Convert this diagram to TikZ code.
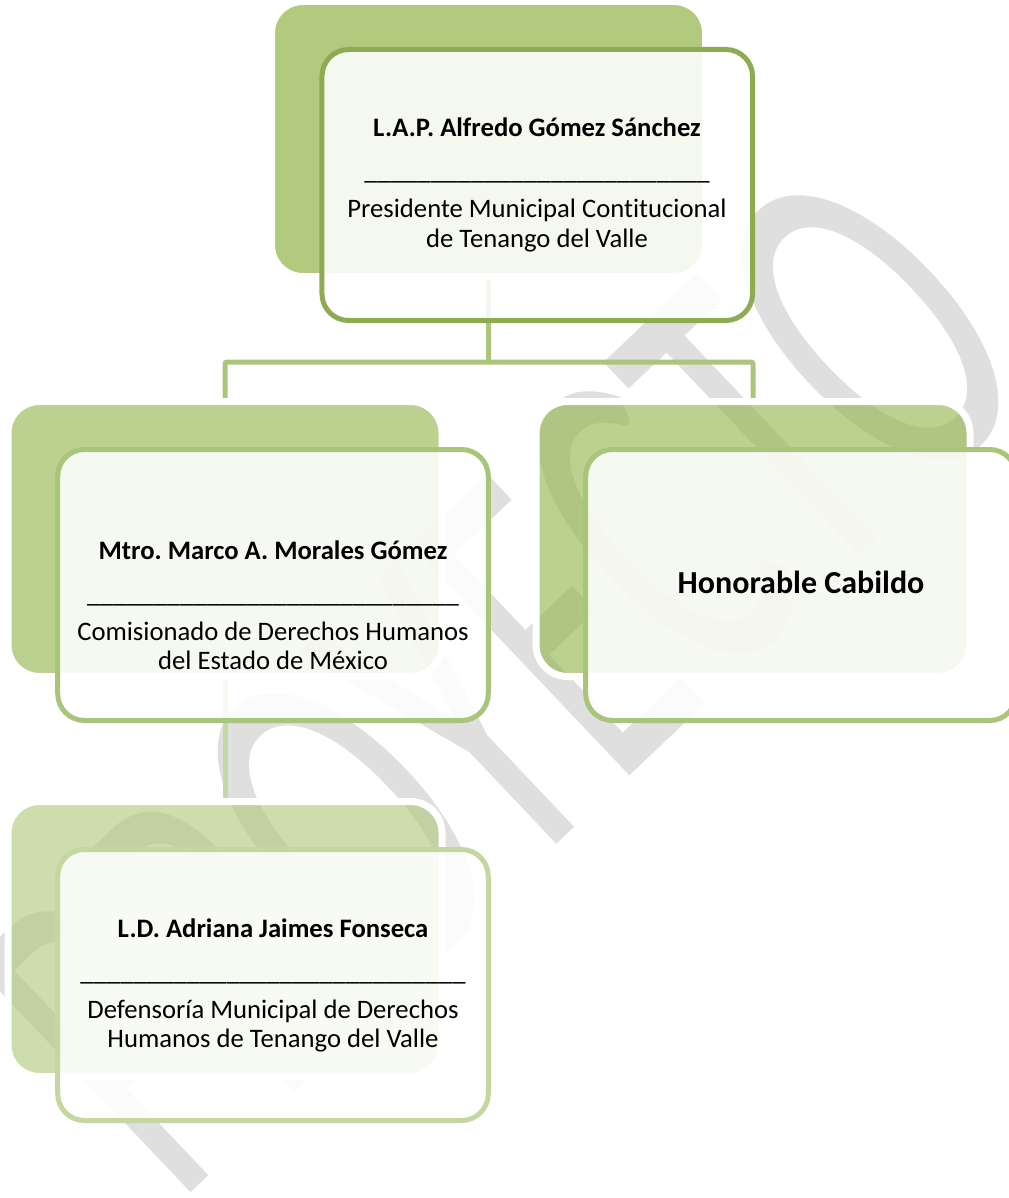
\documentclass[tikz,border=0pt]{standalone}
\usepackage{fontspec}
\setmainfont{Carlito}[Ligatures=NoCommon]
\usepackage{graphicx}
\frenchspacing
\definecolor{wmgray}{HTML}{DFDFDF}
\definecolor{topback}{HTML}{89AD37}
\definecolor{midback}{HTML}{98B753}
\definecolor{botback}{HTML}{B2CB81}
\definecolor{topline}{HTML}{8FAB52}
\definecolor{midline}{HTML}{A9C47B}
\definecolor{botline}{HTML}{C4D7A0}
\definecolor{connA}{HTML}{ABC57C}
\definecolor{connB}{HTML}{C5D8A3}
\pgfdeclarelayer{wmlayer}
\pgfdeclarelayer{connlayer}
\pgfsetlayers{wmlayer,connlayer,main}
\begin{document}
\begin{tikzpicture}[x=0.75pt,y=-0.75pt,
  backbox/.style={draw=white, line width=5.25pt, rounded corners=23.6pt,
    fill opacity=0.65, draw opacity=1, minimum width=325.5pt, minimum height=206.25pt,
    inner sep=0pt, outer sep=0pt},
  frontbox/.style={line width=3.75pt, rounded corners=20pt, fill=white,
    fill opacity=0.88, minimum width=322.9pt, minimum height=203.25pt,
    inner sep=0pt, outer sep=0pt},
  boxtext/.style={anchor=base, inner sep=0pt, font=\fontsize{20pt}{22pt}\selectfont},
  conn/.style={line width=3.75pt, rounded corners=1.5pt}
]
\useasboundingbox (0,0) rectangle (1008,1198);

% back rectangles
\node[backbox, fill=topback] (tb) at (488.5,139) {};
\node[backbox, fill=midback] (mlb) at (225,539) {};
\node[backbox, fill=midback] (mrb) at (753,539) {};
\node[backbox, fill=botback] (bb) at (225,939) {};

% front boxes
\node[frontbox, draw=topline] (t) at (537.25,185) {};
\node[frontbox, draw=midline] (ml) at (273,585) {};
\node[frontbox, draw=midline] (mr) at (801,585) {};
\node[frontbox, draw=botline] (b) at (273,985) {};

% texts
\node[boxtext] (ttext) at (537,137) {\begin{tabular}[t]{@{}c@{}}\bfseries L.A.P. Alfredo Gómez Sánchez\\[10.25pt]
\_\_\_\_\_\_\_\_\_\_\_\_\_\_\_\_\_\_\_\_\_\_\_\_\_\_\\[6.5pt]
Presidente Municipal Contitucional\\
de Tenango del Valle\end{tabular}};

\node[boxtext] (mltext) at (273,559) {\begin{tabular}[t]{@{}c@{}}\bfseries Mtro. Marco A. Morales Gómez\\[10.25pt]
\_\_\_\_\_\_\_\_\_\_\_\_\_\_\_\_\_\_\_\_\_\_\_\_\_\_\_\_\\[6.5pt]
Comisionado de Derechos Humanos\\
del Estado de México\end{tabular}};

\node[anchor=base, inner sep=0pt, font=\fontsize{24pt}{28pt}\selectfont\bfseries] (mrtext) at (801,593) {Honorable Cabildo};

\node[boxtext] (btext) at (273,937) {\begin{tabular}[t]{@{}c@{}}\bfseries L.D. Adriana Jaimes Fonseca\\[10.25pt]
\_\_\_\_\_\_\_\_\_\_\_\_\_\_\_\_\_\_\_\_\_\_\_\_\_\_\_\_\_\\[6.5pt]
Defensoría Municipal de Derechos\\
Humanos de Tenango del Valle\end{tabular}};

% connectors
\begin{pgfonlayer}{connlayer}
\coordinate (j) at (488.5,362);
\draw[conn, connA] (tb.south) -- (j);
\draw[conn, connA] (mlb.north) -- (mlb.north |- j) -- (mrb.north |- j) -- (mrb.north);
\draw[conn, connB] (mlb.south) -- (bb.north);
\end{pgfonlayer}

% watermark
\begin{pgfonlayer}{wmlayer}
\node[rotate=43.5, anchor=base west, inner sep=0pt, outer sep=0pt, text=wmgray] (wm) at (176,1206)
  {\resizebox{900pt}{240pt}{PROYECTO}};
\end{pgfonlayer}
\end{tikzpicture}
\end{document}
